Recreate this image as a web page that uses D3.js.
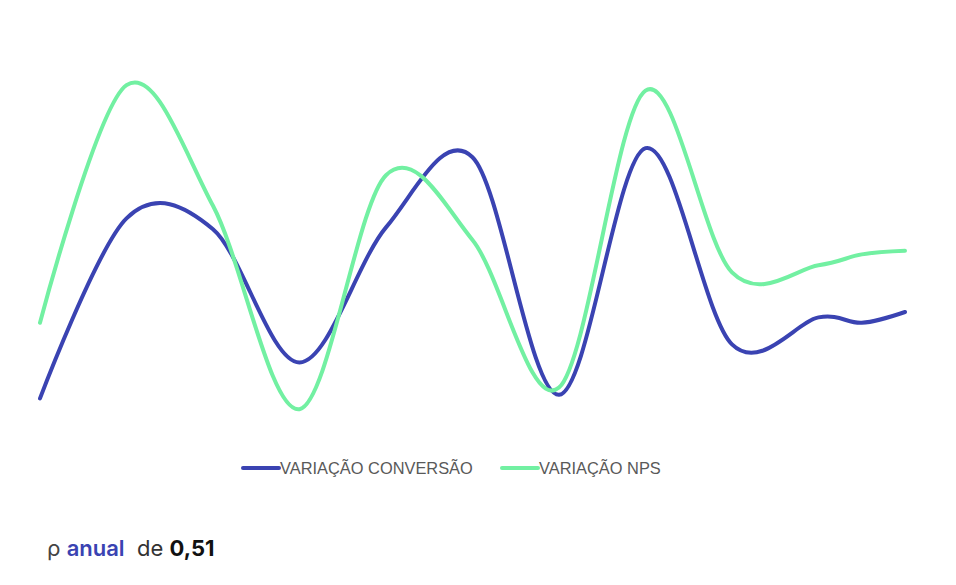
<!DOCTYPE html>
<html lang="pt">
<head>
<meta charset="UTF-8">
<title>Variação conversão x NPS</title>
<script src="https://cdn.jsdelivr.net/npm/d3@7"></script>
<style>
  body { margin: 0; background: #fff; }
  .legend text { font-family: "Liberation Sans", Arial, sans-serif; font-size: 16.4px; fill: #595959; }
  .rho { font-family: Inter, "Noto Sans", sans-serif; font-size: 22px; }
</style>
</head>
<body>
<svg id="chart" width="956" height="585"></svg>
<script>
// periods (weeks, not labelled on the chart)
var periods = [0, 2, 4, 6, 8, 10, 12, 14, 16, 18, 19, 20];
// variação conversão
var conversao = [-8.8, 1.2, 0.6, -6.8, 0.7, 4.6, -8.6, 5.1, -5.8, -4.3, -4.6, -4.0];
// variação NPS
var nps = [-4.6, 8.6, 1.9, -9.4, 3.6, 0.0, -8.2, 8.3, -1.8, -1.4, -0.8, -0.6];

var series = [
  {name: "VARIAÇÃO CONVERSÃO", values: conversao, color: "#3a43b2"},
  {name: "VARIAÇÃO NPS", values: nps, color: "#72f0a2"}
];

var svg = d3.select("#chart");

var x = d3.scaleLinear()
    .domain([0, 20])
    .range([40, 905]);

var y = d3.scaleLinear()
    .domain([-10, 10])
    .range([420, 60]);

var line = d3.line()
    .x(function(d, i) { return x(periods[i]); })
    .y(function(d) { return y(d); })
    .curve(d3.curveCardinal.tension(0));

svg.selectAll(".serie")
  .data(series)
  .enter()
  .append("path")
    .attr("class", "serie")
    .attr("d", function(d) { return line(d.values); })
    .attr("fill", "none")
    .attr("stroke", function(d) { return d.color; })
    .attr("stroke-width", 4)
    .attr("stroke-linecap", "round");

// legend
var legend = svg.append("g").attr("class", "legend");
var legendX = [243, 502];
series.forEach(function(s, i) {
  var g = legend.append("g").attr("transform", "translate(" + legendX[i] + ",468)");
  g.append("line")
    .attr("x1", 0).attr("x2", 36)
    .attr("stroke", s.color)
    .attr("stroke-width", 4)
    .attr("stroke-linecap", "round");
  g.append("text")
    .attr("x", 37)
    .attr("dy", "0.35em")
    .text(s.name);
});

// correlação anual
var t = svg.append("text")
    .attr("class", "rho")
    .attr("x", 47)
    .attr("y", 556);
t.append("tspan").attr("fill", "#444").text("ρ ");
t.append("tspan").attr("fill", "#3a43b2").attr("font-weight", 600).text("anual");
t.append("tspan").attr("fill", "#333").attr("xml:space", "preserve").text("  de ");
t.append("tspan").attr("fill", "#111").attr("font-weight", 700).text("0,51");
</script>
</body>
</html>
